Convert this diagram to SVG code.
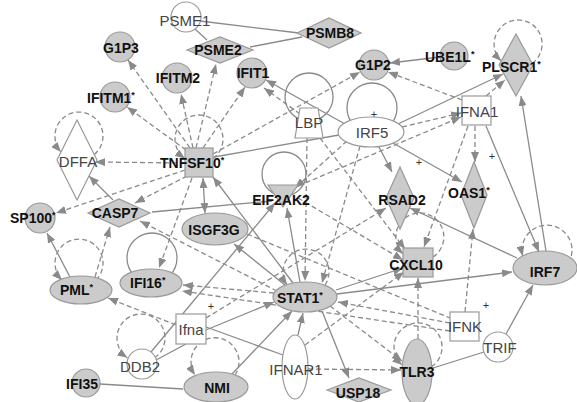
<svg xmlns="http://www.w3.org/2000/svg" width="577" height="402" viewBox="0 0 577 402">
<defs>
<marker id="ar" viewBox="0 0 10 8" refX="10" refY="4" markerWidth="10" markerHeight="8" markerUnits="userSpaceOnUse" orient="auto-start-reverse"><path d="M0,0 L10,4 L0,8 z" fill="#8a8a8a"/></marker>
</defs>
<style>
.s{stroke:#8a8a8a;stroke-width:1.3;fill:none}
.d{stroke:#8a8a8a;stroke-width:1.3;fill:none;stroke-dasharray:5 3}
.a{marker-end:url(#ar)}
.b{marker-start:url(#ar);marker-end:url(#ar)}
.n{fill:#cbcbcb;stroke:#999;stroke-width:1.2}
.w{fill:#fff;stroke:#999;stroke-width:1.2}
.lb{font-family:"Liberation Sans",Arial,sans-serif;font-weight:bold;font-size:14px;fill:#111;text-anchor:middle}
.ls{font-family:"Liberation Sans",Arial,sans-serif;font-weight:bold;font-size:14px;fill:#111}
.lw{font-family:"Liberation Sans",Arial,sans-serif;font-size:15px;fill:#444;text-anchor:middle}
.pl{font-family:"Liberation Sans",Arial,sans-serif;font-size:11px;fill:#333;text-anchor:middle}
.st{font-size:9px}
</style>
<rect width="577" height="402" fill="#fff"/>
<g id="connectors">
<!-- self loops -->
<circle class="s" cx="309" cy="97" r="24"/>
<circle class="s" cx="372" cy="108" r="25"/>
<circle class="s" cx="284" cy="174" r="22"/>
<circle class="s" cx="152" cy="258" r="25"/>
<path class="d a" d="M532.2,63.4 A24,24 0 1 0 501.2,61"/>
<path class="d a" d="M94.3,154.5 A24,24 0 1 0 61,152"/>
<path class="d a" d="M213,158.5 A24,24 0 1 0 185,158.5"/>
<path class="d a" d="M433,257 A24,24 0 1 0 403,254"/>
<path class="d a" d="M571.3,256 A25,25 0 1 0 522.7,256"/>
<path class="d a" d="M96,280 A24,24 0 1 0 62,280"/>
<path class="d a" d="M325,285 A23,23 0 1 0 287,285"/>
<path class="d a" d="M154.6,357.8 A24,24 0 1 0 127.4,357.8"/>
<path class="d a" d="M235,375 A24,24 0 1 0 195,375"/>
<path class="d a" d="M431.5,366.8 A24,24 0 1 0 402.2,365"/>
<!-- edges -->
<line class="s" x1="200" y1="21" x2="299" y2="33"/>
<line class="s" x1="250" y1="47" x2="302" y2="37"/>
<line class="s" x1="195" y1="29" x2="207" y2="40"/>
<line class="d a" x1="196" y1="148" x2="216" y2="64"/>
<line class="d a" x1="190" y1="148" x2="128" y2="60"/>
<line class="d a" x1="193" y1="148" x2="181" y2="94"/>
<line class="d a" x1="186" y1="150" x2="127" y2="107"/>
<line class="d a" x1="203" y1="148" x2="245" y2="87"/>
<line class="s a" x1="345" y1="124" x2="266" y2="80"/>
<line class="d a" x1="300" y1="114" x2="264" y2="88"/>
<line class="d a" x1="213" y1="154" x2="360" y2="72"/>
<line class="s a" x1="440" y1="57" x2="390" y2="63"/>
<line class="d a" x1="462" y1="100" x2="388" y2="72"/>
<line class="s a" x1="398" y1="124" x2="503" y2="74"/>
<line class="d a" x1="486" y1="96" x2="505" y2="80"/>
<line class="s a" x1="546" y1="251" x2="521" y2="96"/>
<line class="d a" x1="402" y1="127" x2="461" y2="113"/>
<line class="d a" x1="298" y1="186" x2="461" y2="117"/>
<line class="d a" x1="475" y1="126" x2="475" y2="162"/>
<line class="d a" x1="468" y1="126" x2="424" y2="247"/>
<line class="s a" x1="486" y1="126" x2="539" y2="252"/>
<line class="s a" x1="379" y1="147" x2="392" y2="172"/>
<line class="s a" x1="393" y1="143" x2="462" y2="182"/>
<line class="d a" x1="465" y1="312" x2="473" y2="229"/>
<line class="s a" x1="517" y1="258" x2="410" y2="208"/>
<line class="d a" x1="206" y1="318" x2="386" y2="208"/>
<line class="s a" x1="113" y1="200" x2="89" y2="176"/>
<line class="d a" x1="185" y1="163" x2="95" y2="162"/>
<line class="d a" x1="185" y1="170" x2="56" y2="213"/>
<line class="d a" x1="187" y1="176" x2="135" y2="203"/>
<line class="d a" x1="192" y1="178" x2="159" y2="268"/>
<line class="s b" x1="205" y1="213" x2="203" y2="178"/>
<line class="s a" x1="293" y1="283" x2="213" y2="177"/>
<line class="s" x1="214" y1="157" x2="339" y2="135"/>
<line class="s" x1="152" y1="212" x2="272" y2="201"/>
<line class="d a" x1="277" y1="291" x2="140" y2="221"/>
<line class="d a" x1="95" y1="277" x2="110" y2="227"/>
<line class="s a" x1="70" y1="277" x2="47" y2="233"/>
<line class="d a" x1="176" y1="325" x2="108" y2="298"/>
<line class="s a" x1="151" y1="352" x2="275" y2="203"/>
<line class="s" x1="156" y1="360" x2="186" y2="344"/>
<line class="s a" x1="206" y1="330" x2="274" y2="302"/>
<line class="s a" x1="285" y1="285" x2="234" y2="244"/>
<line class="s a" x1="232" y1="374" x2="292" y2="311"/>
<line class="s a" x1="298" y1="335" x2="303" y2="313"/>
<line class="s a" x1="322" y1="311" x2="349" y2="378"/>
<line class="s a" x1="337" y1="294" x2="512" y2="272"/>
<line class="s a" x1="336" y1="290" x2="403" y2="268"/>
<line class="d a" x1="418" y1="339" x2="418" y2="278"/>
<line class="s" x1="484" y1="352" x2="433" y2="368"/>
<line class="s a" x1="506" y1="334" x2="533" y2="285"/>
<line class="d a" x1="308" y1="369" x2="401" y2="370"/>
<line class="d a" x1="330" y1="306" x2="402" y2="361"/>
<line class="d a" x1="450" y1="323" x2="338" y2="302"/>
<line class="d a" x1="450" y1="331" x2="182" y2="291"/>
<line class="d a" x1="274" y1="293" x2="183" y2="285"/>
<line class="d a" x1="307" y1="138" x2="305" y2="281"/>
<line class="d a" x1="320" y1="138" x2="405" y2="249"/>
<line class="d a" x1="347" y1="141" x2="295" y2="188"/>
<line class="d a" x1="360" y1="146" x2="322" y2="283"/>
<line class="s a" x1="300" y1="282" x2="287" y2="208"/>
<line class="d a" x1="298" y1="198" x2="403" y2="260"/>
<line class="d a" x1="305" y1="345" x2="404" y2="272"/>
<line class="s" x1="100" y1="384" x2="183" y2="389"/>
<line class="s" x1="206" y1="327" x2="283" y2="355"/>
<line class="d" x1="247" y1="234" x2="450" y2="318"/>
<text class="pl" x="374" y="118">+</text>
<text class="pl" x="419" y="166">+</text>
<text class="pl" x="492" y="160">+</text>
<text class="pl" x="211" y="310">+</text>
<text class="pl" x="486" y="309">+</text>
</g>
<g id="n-PSME1"><circle class="w" cx="186" cy="17" r="15"/><text class="lw" x="185" y="26">PSME1</text></g>
<g id="n-PSMB8"><polygon class="n" points="297,33 329,18 361,33 329,48"/><text class="lb" x="330" y="38">PSMB8</text></g>
<g id="n-PSME2"><polygon class="n" points="187,50 220,37 253,50 220,63"/><text class="lb" x="218" y="55">PSME2</text></g>
<g id="n-G1P3"><circle class="n" cx="120" cy="47" r="15"/><text class="lb" x="121" y="53">G1P3</text></g>
<g id="n-IFITM2"><circle class="n" cx="177" cy="78" r="15"/><text class="lb" x="178" y="83">IFITM2</text></g>
<g id="n-IFITM1"><circle class="n" cx="115" cy="97" r="15"/><text class="ls" x="87" y="103">IFITM1<tspan class="st" dy="-5">*</tspan></text></g>
<g id="n-IFIT1"><circle class="n" cx="252" cy="73" r="15"/><text class="lb" x="253" y="78">IFIT1</text></g>
<g id="n-G1P2"><circle class="n" cx="374" cy="65" r="15"/><text class="lb" x="373" y="70">G1P2</text></g>
<g id="n-UBE1L"><circle class="n" cx="454" cy="56" r="14"/><text class="ls" x="425" y="62">UBE1L<tspan class="st" dy="-5">*</tspan></text></g>
<g id="n-PLSCR1"><polygon class="n" points="499,65 516,34 533,65 516,96"/><text class="ls" x="482" y="72">PLSCR1<tspan class="st" dy="-5">*</tspan></text></g>
<g id="n-IFNA1"><rect class="w" x="462" y="96" width="29" height="29"/><text class="lw" x="477" y="117">IFNA1</text></g>
<g id="n-LBP"><polygon class="w" points="300,108 318,108 323,138 295,138"/><text class="lw" x="309" y="128">LBP</text></g>
<g id="n-IRF5"><ellipse class="w" cx="371" cy="132" rx="33" ry="15"/><text class="lw" x="372" y="138">IRF5</text></g>
<g id="n-DFFA"><polygon class="w" points="57,160 77,120 97,160 77,200"/><text class="lw" x="78" y="167">DFFA</text></g>
<g id="n-TNFSF10"><rect class="n" x="185" y="148" width="28" height="29"/><text class="ls" x="160" y="168">TNFSF10<tspan class="st" dy="-5">*</tspan></text></g>
<g id="n-SP100"><circle class="n" cx="40" cy="218" r="15"/><text class="ls" x="10" y="223">SP100<tspan class="st" dy="-5">*</tspan></text></g>
<g id="n-CASP7"><polygon class="n" points="88,213 119,199 150,213 119,227"/><text class="lb" x="115" y="218">CASP7</text></g>
<g id="n-EIF2AK2"><polygon class="n" points="268,185 298,185 283,207"/><text class="lb" x="281" y="205">EIF2AK2</text></g>
<g id="n-ISGF3G"><ellipse class="n" cx="215" cy="229" rx="33" ry="16"/><text class="lb" x="214" y="235">ISGF3G</text></g>
<g id="n-RSAD2"><polygon class="n" points="386,198 400,167 414,198 400,229"/><text class="lb" x="402" y="205">RSAD2</text></g>
<g id="n-OAS1"><polygon class="n" points="461,195 474,162 487,195 474,228"/><text class="ls" x="448" y="198">OAS1<tspan class="st" dy="-5">*</tspan></text></g>
<g id="n-CXCL10"><rect class="n" x="403" y="248" width="30" height="29"/><text class="lb" x="416" y="270">CXCL10</text></g>
<g id="n-IRF7"><ellipse class="n" cx="545" cy="268" rx="32" ry="17"/><text class="lb" x="545" y="277">IRF7</text></g>
<g id="n-PML"><ellipse class="n" cx="81" cy="290" rx="31" ry="14"/><text class="ls" x="60" y="295">PML<tspan class="st" dy="-5">*</tspan></text></g>
<g id="n-IFI16"><ellipse class="n" cx="151" cy="283" rx="31" ry="14"/><text class="ls" x="130" y="288">IFI16<tspan class="st" dy="-5">*</tspan></text></g>
<g id="n-STAT1"><ellipse class="n" cx="305" cy="297" rx="32" ry="15"/><text class="ls" x="277" y="303">STAT1<tspan class="st" dy="-5">*</tspan></text></g>
<g id="n-Ifna"><rect class="w" x="176" y="314" width="30" height="30"/><text class="lw" x="191" y="335">Ifna</text></g>
<g id="n-DDB2"><circle class="w" cx="142" cy="364" r="15"/><text class="lw" x="140" y="372">DDB2</text></g>
<g id="n-IFI35"><circle class="n" cx="86" cy="383" r="14"/><text class="lb" x="82" y="389">IFI35</text></g>
<g id="n-NMI"><ellipse class="n" cx="216" cy="387" rx="32" ry="15"/><text class="lb" x="217" y="393">NMI</text></g>
<g id="n-IFNAR1"><ellipse class="w" cx="295" cy="367" rx="13" ry="32"/><text class="lw" x="296" y="375">IFNAR1</text></g>
<g id="n-USP18"><polygon class="n" points="327,390 359,378 391,390 359,402"/><text class="lb" x="358" y="398">USP18</text></g>
<g id="n-TLR3"><ellipse class="n" cx="417" cy="372" rx="15" ry="33"/><text class="lb" x="417" y="377">TLR3</text></g>
<g id="n-IFNK"><rect class="w" x="450" y="312" width="29" height="29"/><text class="lw" x="465" y="332">IFNK</text></g>
<g id="n-TRIF"><circle class="w" cx="498" cy="347" r="15"/><text class="lw" x="500" y="353">TRIF</text></g>
</svg>
